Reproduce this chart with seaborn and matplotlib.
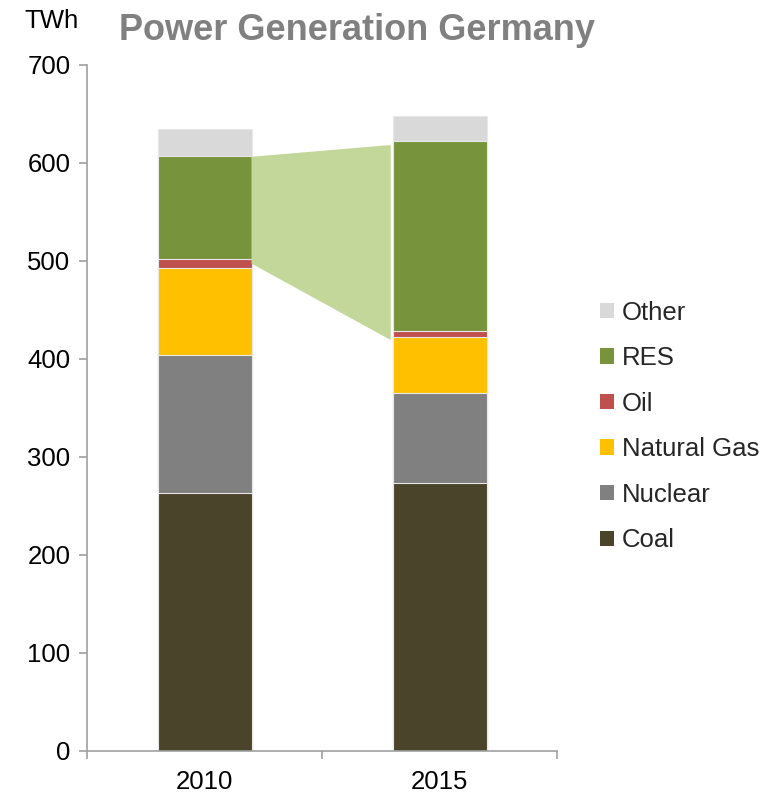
import matplotlib
matplotlib.use("Agg")
import matplotlib.pyplot as plt
import seaborn as sns
import pandas as pd
import numpy as np
from matplotlib.patches import Patch

years = ["2010", "2015"]
sources = ["Coal", "Nuclear", "Natural Gas", "Oil", "RES", "Other"]
coal = [263, 273]
nuclear = [141, 92]
natural_gas = [89, 57]
oil = [9, 6]
res = [105, 194]
other = [27, 26]
# highlight band connecting RES blocks (top, bottom) per year
band_top = [606, 618]
band_bottom = [497, 419]

colors = {
    "Coal": "#4A452A",
    "Nuclear": "#808080",
    "Natural Gas": "#FFC000",
    "Oil": "#C0504D",
    "RES": "#77933C",
    "Other": "#D9D9D9",
}

sns.set_theme(style="white")
plt.rcParams["font.family"] = ["Liberation Sans", "DejaVu Sans"]

fig = plt.figure(figsize=(7.77, 7.95), dpi=100)
ax = fig.add_axes([0.112, 0.0557, 0.605, 0.863])

series = [coal, nuclear, natural_gas, oil, res, other]
cum = np.cumsum(np.array(series), axis=0)
bar_w = 0.4
# draw from top of stack downward so lower segments paint over
for i in range(len(sources) - 1, -1, -1):
    df = pd.DataFrame({"year": years, "value": cum[i]})
    sns.barplot(data=df, x="year", y="value", color=colors[sources[i]],
                width=bar_w, ax=ax, saturation=1, edgecolor="#E8E8E8",
                linewidth=0.8, errorbar=None)

# highlight band
x0 = 0 + bar_w / 2
x1 = 1 - bar_w / 2 - 0.008
ax.fill([x0, x1, x1, x0], [band_top[0], band_top[1], band_bottom[1], band_bottom[0]],
        color="#C4D79B", zorder=3, linewidth=0)

ax.set_xlim(-0.5, 1.5)
ax.set_ylim(0, 700)
ax.set_yticks(np.arange(0, 701, 100))
ax.set_xlabel("")
ax.set_ylabel("")
for s in ["top", "right"]:
    ax.spines[s].set_visible(False)
for s in ["left", "bottom"]:
    ax.spines[s].set_color("#A0A0A0")
    ax.spines[s].set_linewidth(1.2)
ax.tick_params(axis="y", which="major", left=True, length=6, width=1.2,
               color="#A0A0A0", labelsize=18.5, labelcolor="black", pad=6)
ax.tick_params(axis="x", which="major", bottom=False, labelsize=18.5,
               labelcolor="black", pad=8)
ax.set_xticks([-0.5, 0.5, 1.5], minor=True)
ax.tick_params(axis="x", which="minor", bottom=True, length=6, width=1.2,
               color="#A0A0A0")

handles = [Patch(facecolor=colors[s], edgecolor="none") for s in reversed(sources)]
labels = list(reversed(sources))
fig.legend(handles, labels, loc="upper left", bbox_to_anchor=(0.772, 0.622),
           frameon=False, fontsize=18.5, handlelength=0.55, handleheight=0.55,
           handletextpad=0.3, labelspacing=0.84, borderaxespad=0, borderpad=0)

fig.text(0.032, 0.9648, "TWh", fontsize=18.5, color="black", va="baseline", ha="left")
fig.text(0.46, 0.9497, "Power Generation Germany", fontsize=26, fontweight="bold",
         color="#808080", va="baseline", ha="center")

fig.savefig("out.png", dpi=100)
